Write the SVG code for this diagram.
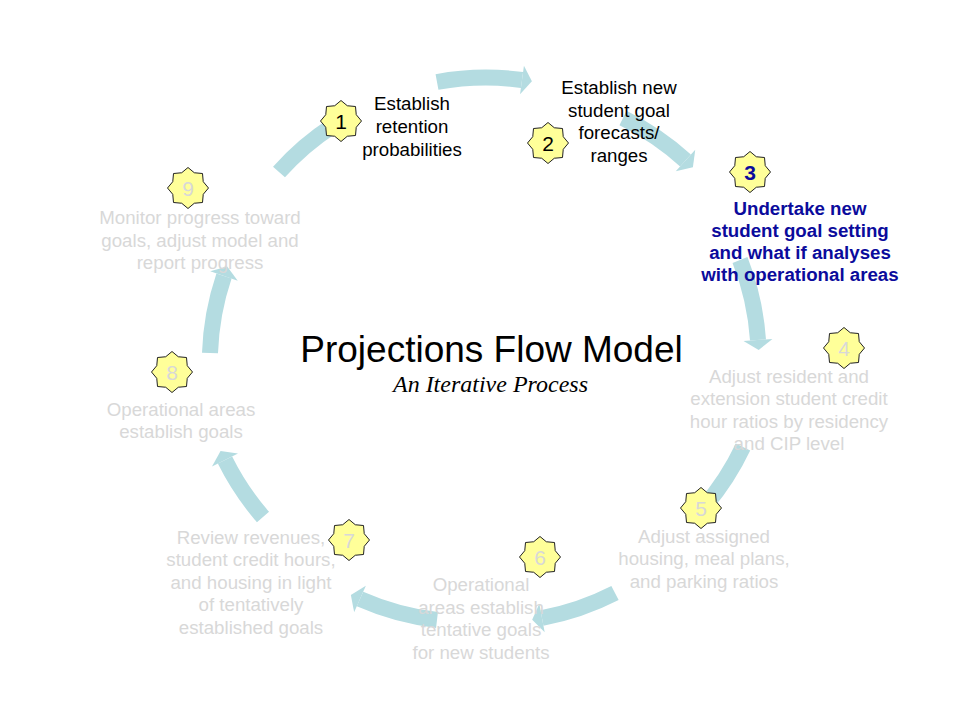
<svg xmlns="http://www.w3.org/2000/svg" xmlns:xlink="http://www.w3.org/1999/xlink" width="960" height="720" viewBox="0 0 960 720">
<style>
.arr{fill:none;stroke:#b4dce1;stroke-width:16;marker-end:url(#head)}
.star{fill:#ffff99;stroke:#222;stroke-width:1}
.lbl{font-family:"Liberation Sans",Arial,sans-serif;font-size:18.7px;text-anchor:middle}
.num{font-family:"Liberation Sans",Arial,sans-serif;font-size:21px;text-anchor:middle}
.dark{fill:#000}
.blue{fill:#0b0b9c;font-weight:bold}
.grey{fill:#d8d8d8}
.title{font-family:"Liberation Sans",Arial,sans-serif;font-size:37px;text-anchor:middle;fill:#000}
.sub{font-family:"Liberation Serif","Times New Roman",serif;font-size:24px;font-style:italic;text-anchor:middle;fill:#000}
</style>
<defs>
<marker id="head" markerUnits="userSpaceOnUse" viewBox="0 -15 11 30" refX="0" refY="0" markerWidth="11" markerHeight="30" orient="auto" overflow="visible">
<path d="M0,-14.5 L10,0 L0,14.5 Z" fill="#b4dce1"/>
</marker>
<polygon id="star8" points="0,-20.5 6.31,-15.24 14.5,-14.5 15.24,-6.31 20.5,0 15.24,6.31 14.5,14.5 6.31,15.24 0,20.5 -6.31,15.24 -14.5,14.5 -15.24,6.31 -20.5,0 -15.24,-6.31 -14.5,-14.5 -6.31,-15.24"/>
</defs>
<rect width="960" height="720" fill="#fff"/>
<g id="connectors">
<path class="arr" d="M437,82 A270,270 0 0 1 522,80"/>
<path class="arr" d="M623,118 A270,270 0 0 1 685.5,160.5"/>
<path class="arr" d="M740,260 A270,270 0 0 1 758,340"/>
<path class="arr" d="M743,447 A270,270 0 0 1 704,507"/>
<path class="arr" d="M615,593 A270,270 0 0 1 542,618"/>
<path class="arr" d="M437,620 A270,270 0 0 1 360,599"/>
<path class="arr" d="M263,517 A270,270 0 0 1 225,460"/>
<path class="arr" d="M210,353 A270,270 0 0 1 224,276"/>
<path class="arr" d="M279,172 A270,270 0 0 1 334,125"/>
</g>
<g id="title">
<text class="title" x="491.5" y="362">Projections Flow Model</text>
<text class="sub" x="490.5" y="392">An Iterative Process</text>
</g>
<g id="node1">
<use xlink:href="#star8" href="#star8" class="star" x="341" y="121"/>
<text class="num dark" x="341" y="128.5">1</text>
<text class="lbl dark"><tspan x="412" y="110">Establish</tspan><tspan x="412" y="133">retention</tspan><tspan x="412" y="156">probabilities</tspan></text>
</g>
<g id="node2">
<use xlink:href="#star8" href="#star8" class="star" x="548" y="143"/>
<text class="num dark" x="548" y="150.5">2</text>
<text class="lbl dark"><tspan x="619" y="94">Establish new</tspan><tspan x="619" y="117">student goal</tspan><tspan x="619" y="139">forecasts/</tspan><tspan x="619" y="162">ranges</tspan></text>
</g>
<g id="node3">
<use xlink:href="#star8" href="#star8" class="star" x="750" y="172"/>
<text class="num blue" x="750" y="179.5">3</text>
<text class="lbl blue"><tspan x="800" y="215">Undertake new</tspan><tspan x="800" y="237">student goal setting</tspan><tspan x="800" y="259">and what if analyses</tspan><tspan x="800" y="281">with operational areas</tspan></text>
</g>
<g id="node4">
<use xlink:href="#star8" href="#star8" class="star" x="844" y="348"/>
<text class="num grey" x="844" y="355.5">4</text>
<text class="lbl grey"><tspan x="789" y="383">Adjust resident and</tspan><tspan x="789" y="405">extension student credit</tspan><tspan x="789" y="428">hour ratios by residency</tspan><tspan x="789" y="450">and CIP level</tspan></text>
</g>
<g id="node5">
<use xlink:href="#star8" href="#star8" class="star" x="701" y="508"/>
<text class="num grey" x="701" y="515.5">5</text>
<text class="lbl grey"><tspan x="704" y="543">Adjust assigned</tspan><tspan x="704" y="565">housing, meal plans,</tspan><tspan x="704" y="588">and parking ratios</tspan></text>
</g>
<g id="node6">
<use xlink:href="#star8" href="#star8" class="star" x="540" y="557"/>
<text class="num grey" x="540" y="564.5">6</text>
<text class="lbl grey"><tspan x="481" y="591">Operational</tspan><tspan x="481" y="614">areas establish</tspan><tspan x="481" y="636">tentative goals</tspan><tspan x="481" y="659">for new students</tspan></text>
</g>
<g id="node7">
<use xlink:href="#star8" href="#star8" class="star" x="349" y="540"/>
<text class="num grey" x="349" y="547.5">7</text>
<text class="lbl grey"><tspan x="251" y="544">Review revenues,</tspan><tspan x="251" y="566">student credit hours,</tspan><tspan x="251" y="589">and housing in light</tspan><tspan x="251" y="611">of tentatively</tspan><tspan x="251" y="634">established goals</tspan></text>
</g>
<g id="node8">
<use xlink:href="#star8" href="#star8" class="star" x="172" y="372"/>
<text class="num grey" x="172" y="379.5">8</text>
<text class="lbl grey"><tspan x="181" y="416">Operational areas</tspan><tspan x="181" y="438">establish goals</tspan></text>
</g>
<g id="node9">
<use xlink:href="#star8" href="#star8" class="star" x="188" y="188"/>
<text class="num grey" x="188" y="195.5">9</text>
<text class="lbl grey"><tspan x="200" y="224">Monitor progress toward</tspan><tspan x="200" y="247">goals, adjust model and</tspan><tspan x="200" y="269">report progress</tspan></text>
</g>
</svg>
